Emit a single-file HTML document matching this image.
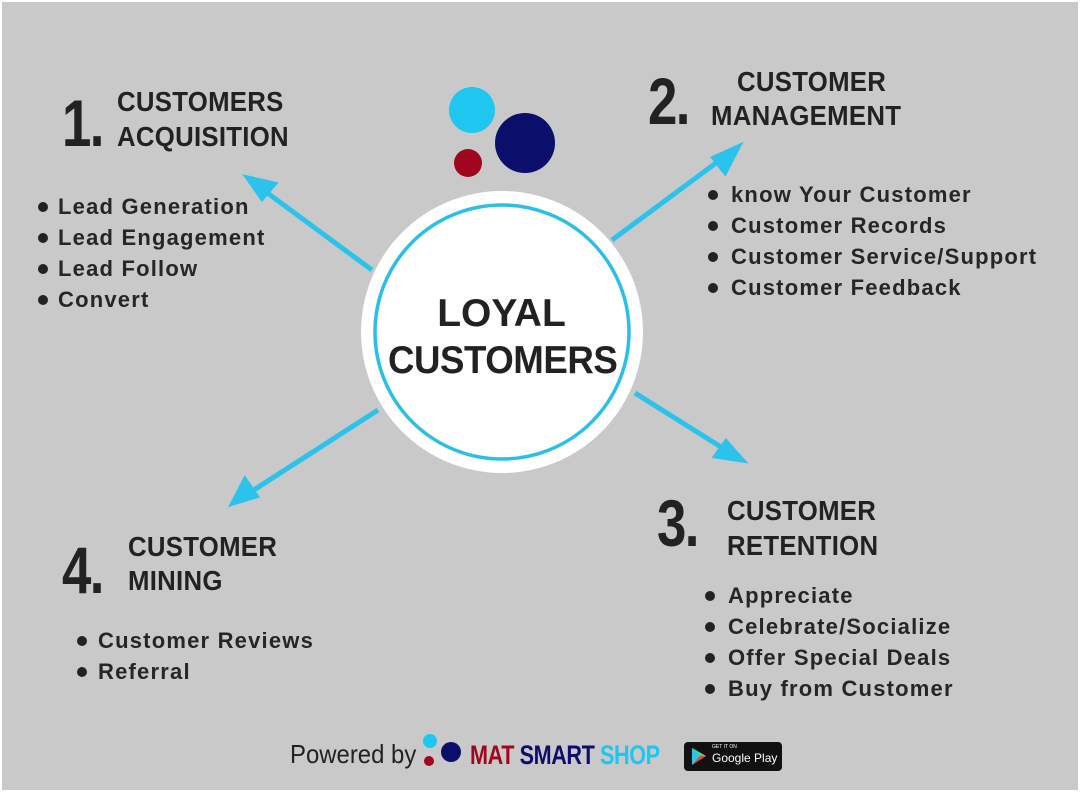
<!DOCTYPE html>
<html><head><meta charset="utf-8"><style>
body{margin:0;width:1080px;height:792px;overflow:hidden;background:#fff;font-family:"Liberation Sans",sans-serif;color:#222;}
#p{position:absolute;left:2px;top:2px;width:1076px;height:788px;background:#c9c9c9;}
.a{position:absolute;white-space:nowrap;line-height:1;}
.n{font-weight:bold;font-size:66px;letter-spacing:-2px;transform:scaleX(0.8);transform-origin:left;}
.h{font-weight:bold;font-size:28px;letter-spacing:0.3px;transform:scaleX(0.92);transform-origin:left;}
.b{font-weight:bold;font-size:22px;letter-spacing:1.2px;color:#262626;}
.d{position:absolute;width:10px;height:10px;border-radius:50%;background:#222;}
</style></head><body><div id="p"></div>
<svg width="1080" height="792" style="position:absolute;left:0;top:0">
<g stroke="#2bc3ec" stroke-width="5" fill="#2bc3ec">
<line x1="372" y1="270" x2="262" y2="189"/><polygon points="248,178 274,184 262,198"/>
<line x1="612" y1="240" x2="724" y2="157"/><polygon points="738,147 725,172 714,158" />
<line x1="635" y1="393" x2="729" y2="452"/><polygon points="742,460 716,456 726,442"/>
<line x1="378" y1="410" x2="246" y2="495"/><polygon points="233,503 245,480 256,496"/>
</g>
<circle cx="502" cy="332" r="141" fill="#fff"/>
<circle cx="502" cy="332" r="127" fill="none" stroke="#2bbfe8" stroke-width="3.5"/>
<circle cx="472" cy="110" r="23" fill="#1fc6f0"/>
<circle cx="525" cy="143" r="30" fill="#0b0f6b"/>
<circle cx="468" cy="163" r="14" fill="#a0061d"/>
<circle cx="430" cy="741" r="7" fill="#1fc6f0"/>
<circle cx="451" cy="752" r="10" fill="#0b0f6b"/>
<circle cx="429" cy="761" r="5" fill="#a0061d"/>
<rect x="684" y="742" width="98" height="29" rx="4" fill="#111"/>
<polygon points="692,748 692,765 706,756" fill="#2bc3ec"/>
<polygon points="692,748 700,756 706,756" fill="#3ddc84"/>
<polygon points="692,765 700,756 706,756" fill="#e8443a"/>
</svg>
<div class="a" style="left:712px;top:745px;font-size:5px;color:#fff">GET IT ON</div>
<div class="a" style="left:712px;top:752px;font-size:12px;color:#fff">Google Play</div>

<div class="a" style="left:388px;top:294px;font-weight:bold;font-size:39px;width:227px;text-align:center">LOYAL</div>
<div class="a" style="left:388px;top:341px;font-weight:bold;font-size:39px;letter-spacing:-0.5px;transform:scaleX(0.94);transform-origin:left">CUSTOMERS</div>

<div class="a n" style="left:62px;top:90px">1.</div>
<div class="a h" style="left:117px;top:88px">CUSTOMERS</div>
<div class="a h" style="left:117px;top:123px">ACQUISITION</div>
<div class="d" style="left:38px;top:202px"></div><div class="a b" style="left:58px;top:196px">Lead Generation</div>
<div class="d" style="left:38px;top:233px"></div><div class="a b" style="left:58px;top:227px">Lead Engagement</div>
<div class="d" style="left:38px;top:264px"></div><div class="a b" style="left:58px;top:258px">Lead Follow</div>
<div class="d" style="left:38px;top:295px"></div><div class="a b" style="left:58px;top:289px">Convert</div>

<div class="a n" style="left:648px;top:68px">2.</div>
<div class="a h" style="left:737px;top:68px">CUSTOMER</div>
<div class="a h" style="left:711px;top:102px">MANAGEMENT</div>
<div class="d" style="left:708px;top:190px"></div><div class="a b" style="left:731px;top:184px">know Your Customer</div>
<div class="d" style="left:708px;top:221px"></div><div class="a b" style="left:731px;top:215px">Customer Records</div>
<div class="d" style="left:708px;top:252px"></div><div class="a b" style="left:731px;top:246px">Customer Service/Support</div>
<div class="d" style="left:708px;top:283px"></div><div class="a b" style="left:731px;top:277px">Customer Feedback</div>

<div class="a n" style="left:657px;top:490px">3.</div>
<div class="a h" style="left:727px;top:497px">CUSTOMER</div>
<div class="a h" style="left:727px;top:532px">RETENTION</div>
<div class="d" style="left:705px;top:591px"></div><div class="a b" style="left:728px;top:585px">Appreciate</div>
<div class="d" style="left:705px;top:622px"></div><div class="a b" style="left:728px;top:616px">Celebrate/Socialize</div>
<div class="d" style="left:705px;top:653px"></div><div class="a b" style="left:728px;top:647px">Offer Special Deals</div>
<div class="d" style="left:705px;top:684px"></div><div class="a b" style="left:728px;top:678px">Buy from Customer</div>

<div class="a n" style="left:62px;top:537px">4.</div>
<div class="a h" style="left:128px;top:533px">CUSTOMER</div>
<div class="a h" style="left:128px;top:567px">MINING</div>
<div class="d" style="left:77px;top:636px"></div><div class="a b" style="left:98px;top:630px">Customer Reviews</div>
<div class="d" style="left:77px;top:667px"></div><div class="a b" style="left:98px;top:661px">Referral</div>

<div class="a" style="left:290px;top:741px;font-size:26px;color:#222;transform:scaleX(0.92);transform-origin:left">Powered by</div>
<div class="a" style="left:470px;top:742px;font-size:27px;font-weight:bold;transform:scaleX(0.8);transform-origin:left;letter-spacing:-0.5px"><span style="color:#a0061d">MAT</span> <span style="color:#0b0f6b">SMART</span> <span style="color:#1fc6f0">SHOP</span></div>
</body></html>
